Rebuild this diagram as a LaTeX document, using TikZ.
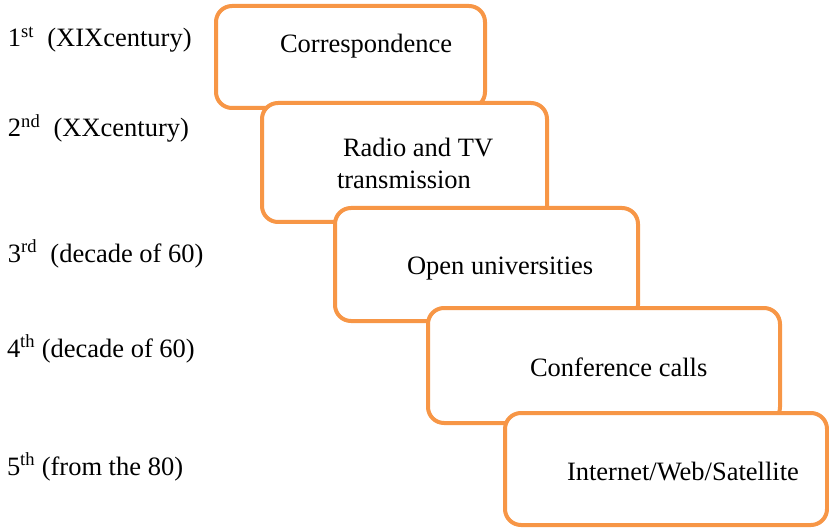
\documentclass[tikz,border=0pt]{standalone}
\usepackage{fontspec}
\setmainfont{Liberation Serif}
\definecolor{boxorange}{HTML}{F79646}
\begin{document}
\begin{tikzpicture}[x=1pt,y=-1pt,
  stagebox/.style={draw=boxorange, line width=4pt, fill=white, rounded corners=16pt,
    rectangle, inner sep=0pt, outer sep=0pt},
  lbl/.style={anchor=base west, inner sep=0pt, outer sep=0pt, font=\fontsize{26.5}{31}\selectfont},
]
\useasboundingbox (0,0) rectangle (829,529);
% boxes, drawn in order so that later ones overlap earlier ones
\node[stagebox, minimum width=269pt, minimum height=102pt] (b1) at (350.5,57) {};
\node[stagebox, minimum width=285pt, minimum height=119pt] (b2) at (404.5,162.5) {};
\node[stagebox, minimum width=303pt, minimum height=113pt] (b3) at (486.5,264.5) {};
\node[stagebox, minimum width=352pt, minimum height=115pt] (b4) at (604,365.5) {};
\node[stagebox, minimum width=322pt, minimum height=112pt] (b5) at (666,469) {};
% box texts
\node[lbl] (t1) at (280,53) {Correspondence};
\node[lbl] (t2a) at (343,157) {Radio and TV};
\node[lbl] (t2b) at (337,189) {transmission};
\node[lbl] (t3) at (407,274) {Open universities};
\node[lbl] (t4) at (530,376) {Conference calls};
\node[lbl] (t5) at (567,480) {Internet/Web/Satellite};
% left labels
\node[lbl] (l1) at (8,47) {1\textsuperscript{st}\ \ (XIXcentury)};
\node[lbl] (l2) at (8,137) {2\textsuperscript{nd}\ \ (XXcentury)};
\node[lbl] (l3) at (8,262) {3\textsuperscript{rd}\ \ (decade of 60)};
\node[lbl] (l4) at (7,357) {4\textsuperscript{th} (decade of 60)};
\node[lbl] (l5) at (7,475) {5\textsuperscript{th} (from the 80)};
\end{tikzpicture}
\end{document}
